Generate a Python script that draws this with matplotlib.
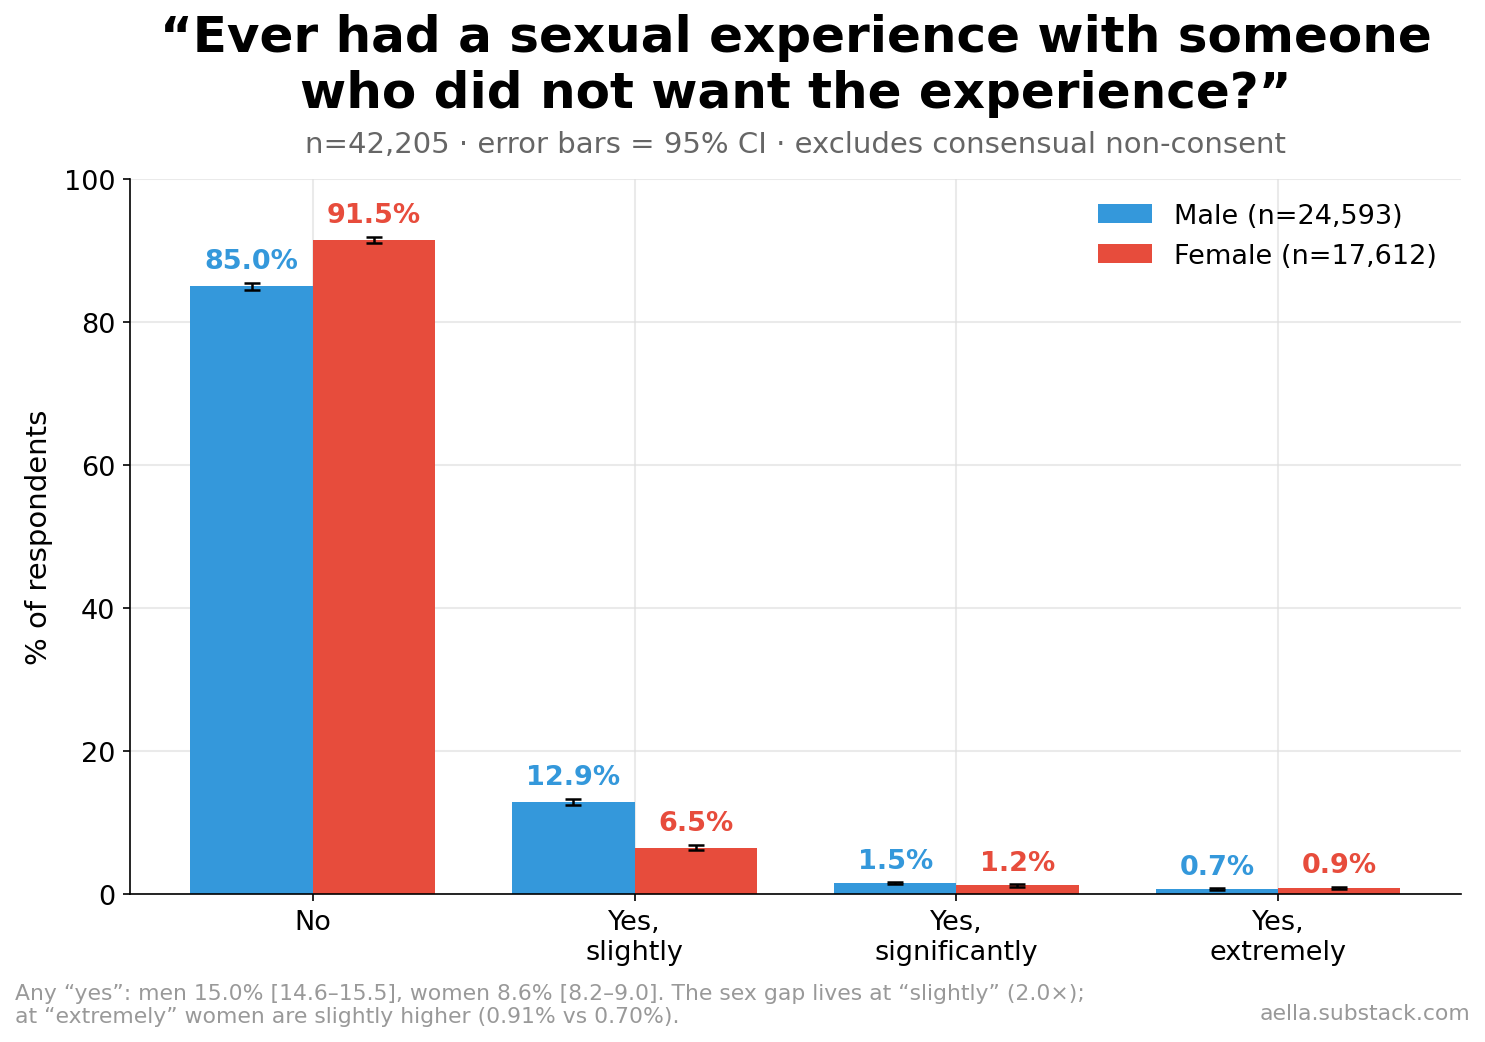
import numpy as np
import matplotlib.pyplot as plt

# answer categories and shares (% of respondents)
categories = ['No', 'Yes,\nslightly', 'Yes,\nsignificantly', 'Yes,\nextremely']
male_pct = [85.0, 12.9, 1.5, 0.7]
female_pct = [91.5, 6.5, 1.2, 0.9]
# 95% CI half widths (percentage points)
male_ci = [0.45, 0.42, 0.15, 0.10]
female_ci = [0.41, 0.36, 0.16, 0.14]
yticks = [0, 20, 40, 60, 80, 100]

blue = '#3498db'
red = '#e74c3c'

fig = plt.figure(figsize=(9.9, 6.953), dpi=150)
ax = fig.add_axes([0.0875, 0.1419, 0.8963, 0.6855])

x = np.arange(len(categories))
w = 0.38
ax.bar(x - w/2, male_pct, w, color=blue, label='Male (n=24,593)', zorder=2)
ax.bar(x + w/2, female_pct, w, color=red, label='Female (n=17,612)', zorder=2)
ax.errorbar(x - w/2, male_pct, yerr=male_ci, fmt='none', ecolor='black',
            elinewidth=1.2, capsize=4, capthick=1.2, zorder=3)
ax.errorbar(x + w/2, female_pct, yerr=female_ci, fmt='none', ecolor='black',
            elinewidth=1.2, capsize=4, capthick=1.2, zorder=3)

# value labels above the bars
for xi, v, e in zip(x - w/2, male_pct, male_ci):
    ax.text(xi, v + e + 1.2, f'{v:.1f}%', ha='center', va='bottom',
            fontsize=13, fontweight='bold', color=blue)
for xi, v, e in zip(x + w/2, female_pct, female_ci):
    ax.text(xi, v + e + 1.2, f'{v:.1f}%', ha='center', va='bottom',
            fontsize=13, fontweight='bold', color=red)

ax.set_ylim(0, 100)
ax.set_yticks(yticks)
ax.set_xticks(x)
ax.set_xticklabels(categories, fontsize=13)
ax.tick_params(axis='y', labelsize=13)
ax.set_ylabel('% of respondents', fontsize=14, labelpad=5)
ax.grid(True, color='#dddddd', alpha=0.6, lw=1)
ax.set_axisbelow(True)
ax.spines['top'].set_visible(False)
ax.spines['right'].set_visible(False)
ax.legend(loc='upper right', frameon=False, fontsize=13)

fig.text(0.5357, 0.937, '\u201cEver had a sexual experience with someone\nwho did not want the experience?\u201d',
         ha='center', va='center', fontsize=24, fontweight='bold', linespacing=1.2)
fig.text(0.5357, 0.861, 'n=42,205 \u00b7 error bars = 95% CI \u00b7 excludes consensual non-consent',
         ha='center', va='center', fontsize=14, color='#666666')
fig.text(0.01, 0.015, 'Any \u201cyes\u201d: men 15.0% [14.6\u201315.5], women 8.6% [8.2\u20139.0]. The sex gap lives at \u201cslightly\u201d (2.0\u00d7);\n'
         'at \u201cextremely\u201d women are slightly higher (0.91% vs 0.70%).',
         ha='left', va='bottom', fontsize=10.5, color='#999999')
fig.text(0.99, 0.018, 'aella.substack.com', ha='right', va='bottom', fontsize=10.5, color='#999999')

fig.savefig('out.png', dpi=150)
